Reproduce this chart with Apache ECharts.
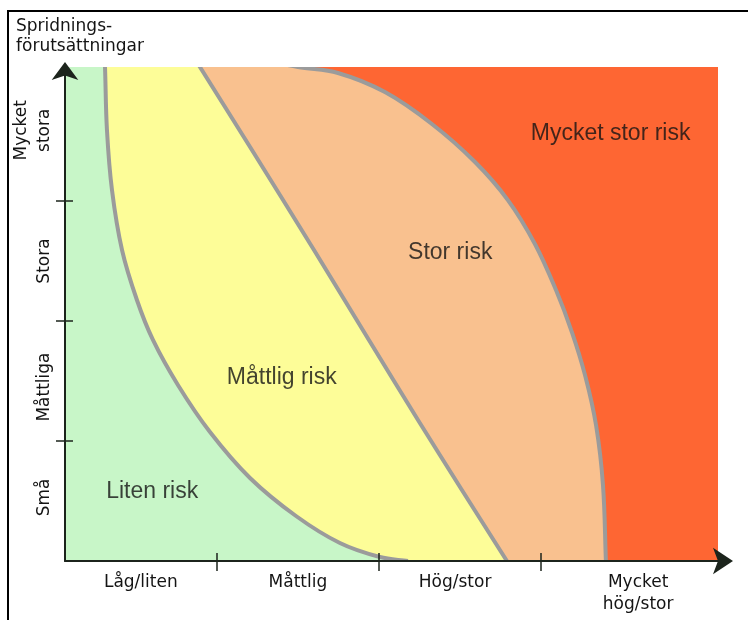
<!DOCTYPE html>
<html><head><meta charset="utf-8">
<script src="https://cdn.jsdelivr.net/npm/echarts@6/dist/echarts.min.js"></script>
<style>
html,body{margin:0;padding:0;background:#fff;}
#frame{position:absolute;left:7px;top:10px;width:741px;height:610px;border-top:2px solid #000;border-left:2px solid #000;box-sizing:border-box;}
#chart{position:absolute;left:0;top:0;width:748px;height:620px;}
</style></head><body>
<div id="frame"></div>
<div id="chart"></div>
<script>
// ---- data ----
const axisTitle = 'Spridnings-\nförutsättningar';
const xTickLabels = ['Låg/liten', 'Måttlig', 'Hög/stor', 'Mycket\nhög/stor'];
const xLabelAt = [0.53, 1.5, 2.47, 3.6];
const xTicks = [1, 2, 3];
const yTickLabels = ['Små', 'Måttliga', 'Stora', 'Mycket\nstora'];
const yLabelAt = [0.53, 1.45, 2.5, 3.59];
const yTicks = [1, 2, 3];
const xRange = [0.062, 4.093];
const yRange = [0, 4.117];

const riskNames = ['Liten risk', 'Måttlig risk', 'Stor risk', 'Mycket stor risk'];
const riskLabelX = [0.60, 1.40, 2.44, 3.43];
const riskLabelY = [0.58, 1.53, 2.57, 3.56];

// region outlines (x, y) in axis units; first points lie just above the plot top
const veryHighRiskArea = [[0, 0], [4.3, 0], [4.3, 4.45], [0, 4.45]];
const highRiskEdge = [[1.204, 4.2], [1.5, 4.117], [1.747, 4.067], [2.037, 3.908], [2.327, 3.642], [2.593, 3.325], [2.796, 3.008], [2.963, 2.642], [3.093, 2.258], [3.191, 1.908], [3.272, 1.55], [3.34, 1.133], [3.383, 0.633], [3.401, 0]];
const moderateRiskEdge = [[0.833, 4.25], [0.895, 4.117], [1.216, 3.425], [1.599, 2.592], [1.938, 1.842], [2.241, 1.175], [2.512, 0.592], [2.79, 0]];
const lowRiskEdge = [[0.302, 4.342], [0.309, 4.117], [0.321, 3.592], [0.352, 3.092], [0.414, 2.592], [0.506, 2.175], [0.605, 1.842], [0.759, 1.467], [0.957, 1.075], [1.204, 0.692], [1.488, 0.375], [1.759, 0.15], [2.006, 0.033], [2.179, 0]];

// ---- styles ----
const AXIS_COLOR = '#1c241c';
const EDGE_COLOR = '#9b9b9b';
const TEXT_COLOR = '#141414';
const FONT = 'DejaVu Sans';
const SMOOTH = 0.36;
const nearest = (arr, v) => { let b = 0; arr.forEach((a, i) => { if (Math.abs(a - v) < Math.abs(arr[b] - v)) b = i; }); return b; };

// smooth bezier through points, control arms proportional to neighbouring segment lengths
function curvePath(pts) {
  const n = pts.length;
  const cpPrev = [], cpNext = [];
  for (let i = 0; i < n; i++) {
    const p = pts[i], a = pts[Math.max(i - 1, 0)], b = pts[Math.min(i + 1, n - 1)];
    const vx = b[0] - a[0], vy = b[1] - a[1];
    const d0 = Math.hypot(p[0] - a[0], p[1] - a[1]);
    const d1 = Math.hypot(b[0] - p[0], b[1] - p[1]);
    const sum = (d0 + d1) || 1;
    cpNext.push([p[0] + vx * SMOOTH * d1 / sum, p[1] + vy * SMOOTH * d1 / sum]);
    cpPrev.push([p[0] - vx * SMOOTH * d0 / sum, p[1] - vy * SMOOTH * d0 / sum]);
  }
  let d = 'M' + pts[0][0] + ',' + pts[0][1];
  for (let i = 0; i < n - 1; i++) {
    const c1 = cpNext[i], c2 = cpPrev[i + 1], p2 = pts[i + 1];
    d += ' C' + c1[0] + ',' + c1[1] + ' ' + c2[0] + ',' + c2[1] + ' ' + p2[0] + ',' + p2[1];
  }
  return d;
}

function regionSeries(edge, fill, stroke) {
  return {
    type: 'custom', coordinateSystem: 'cartesian2d', clip: true, silent: true,
    data: edge,
    renderItem: function (params, api) {
      if (params.dataIndex !== 0) return null;
      const pts = edge.map(p => api.coord(p));
      if (!stroke) {
        return { type: 'polygon', shape: { points: pts }, style: { fill: fill } };
      }
      const last = edge[edge.length - 1];
      const c1 = api.coord([last[0], -0.5]);
      const c2 = api.coord([-1, -0.5]);
      const c3 = api.coord([-1, 4.6]);
      const line = curvePath(pts);
      const area = line + ' L' + c1[0] + ',' + c1[1] + ' L' + c2[0] + ',' + c2[1] + ' L' + c3[0] + ',' + c3[1] + ' Z';
      return {
        type: 'group',
        children: [
          { type: 'path', shape: { pathData: area }, style: { fill: fill, stroke: null } },
          { type: 'path', shape: { pathData: line }, style: { fill: null, stroke: stroke, lineWidth: 4, lineJoin: 'round' } }
        ]
      };
    }
  };
}

const chart = echarts.init(document.getElementById('chart'), null, { renderer: 'canvas' });
chart.setOption({
  animation: false,
  backgroundColor: 'transparent',
  title: {
    text: axisTitle, left: 11, top: 12,
    textStyle: { fontFamily: FONT, fontSize: 17, fontWeight: 'normal', color: TEXT_COLOR, lineHeight: 20 }
  },
  grid: { left: 65, right: 30, top: 67, bottom: 59, containLabel: false, outerBoundsMode: 'none' },
  xAxis: [{
    type: 'value', min: xRange[0], max: xRange[1], position: 'bottom', z: 10,
    axisLine: { show: true, onZero: false, lineStyle: { color: AXIS_COLOR, width: 2 }, symbol: ['none', 'arrow'], symbolSize: [20, 20], symbolOffset: [0, 15] },
    axisTick: { show: true, customValues: xTicks, length: 10, inside: false, lineStyle: { color: AXIS_COLOR, width: 1.5 } },
    axisLabel: {
      show: true, customValues: xLabelAt, margin: 11,
      formatter: v => xTickLabels[nearest(xLabelAt, v)],
      fontFamily: FONT, fontSize: 17, color: TEXT_COLOR, lineHeight: 22
    },
    splitLine: { show: false }
  }, {
    type: 'value', min: xRange[0], max: xRange[1], position: 'bottom', z: 10,
    axisLine: { show: false },
    axisTick: { show: true, customValues: xTicks, length: 8, inside: true, lineStyle: { color: AXIS_COLOR, width: 1.5 } },
    axisLabel: { show: false }, splitLine: { show: false }
  }],
  yAxis: [{
    type: 'value', min: yRange[0], max: yRange[1], position: 'left', z: 10,
    axisLine: { show: true, onZero: false, lineStyle: { color: AXIS_COLOR, width: 2 }, symbol: ['none', 'arrow'], symbolSize: [20, 18], symbolOffset: [0, 5] },
    axisTick: { show: true, customValues: yTicks, length: 9, inside: false, lineStyle: { color: AXIS_COLOR, width: 1.5 } },
    axisLabel: {
      show: true, customValues: yLabelAt, rotate: 90, margin: 9,
      formatter: v => yTickLabels[nearest(yLabelAt, v)],
      fontFamily: FONT, fontSize: 17, color: TEXT_COLOR, lineHeight: 23
    },
    splitLine: { show: false }
  }, {
    type: 'value', min: yRange[0], max: yRange[1], position: 'left', z: 10,
    axisLine: { show: false },
    axisTick: { show: true, customValues: yTicks, length: 8, inside: true, lineStyle: { color: AXIS_COLOR, width: 1.5 } },
    axisLabel: { show: false }, splitLine: { show: false }
  }],
  series: [
    regionSeries(veryHighRiskArea, '#fe6633', null),
    regionSeries(highRiskEdge, '#f9c18f', EDGE_COLOR),
    regionSeries(moderateRiskEdge, '#fdfd98', EDGE_COLOR),
    regionSeries(lowRiskEdge, '#c8f6c8', EDGE_COLOR),
    {
      type: 'scatter', silent: true, symbolSize: 1, itemStyle: { color: 'rgba(0,0,0,0)' },
      data: riskNames.map((n, i) => ({ name: n, value: [riskLabelX[i], riskLabelY[i]] })),
      label: { show: true, position: 'inside', formatter: '{b}', fontFamily: 'Liberation Sans', fontSize: 23, color: TEXT_COLOR },
      z: 5
    }
  ]
});
</script>
</body></html>
